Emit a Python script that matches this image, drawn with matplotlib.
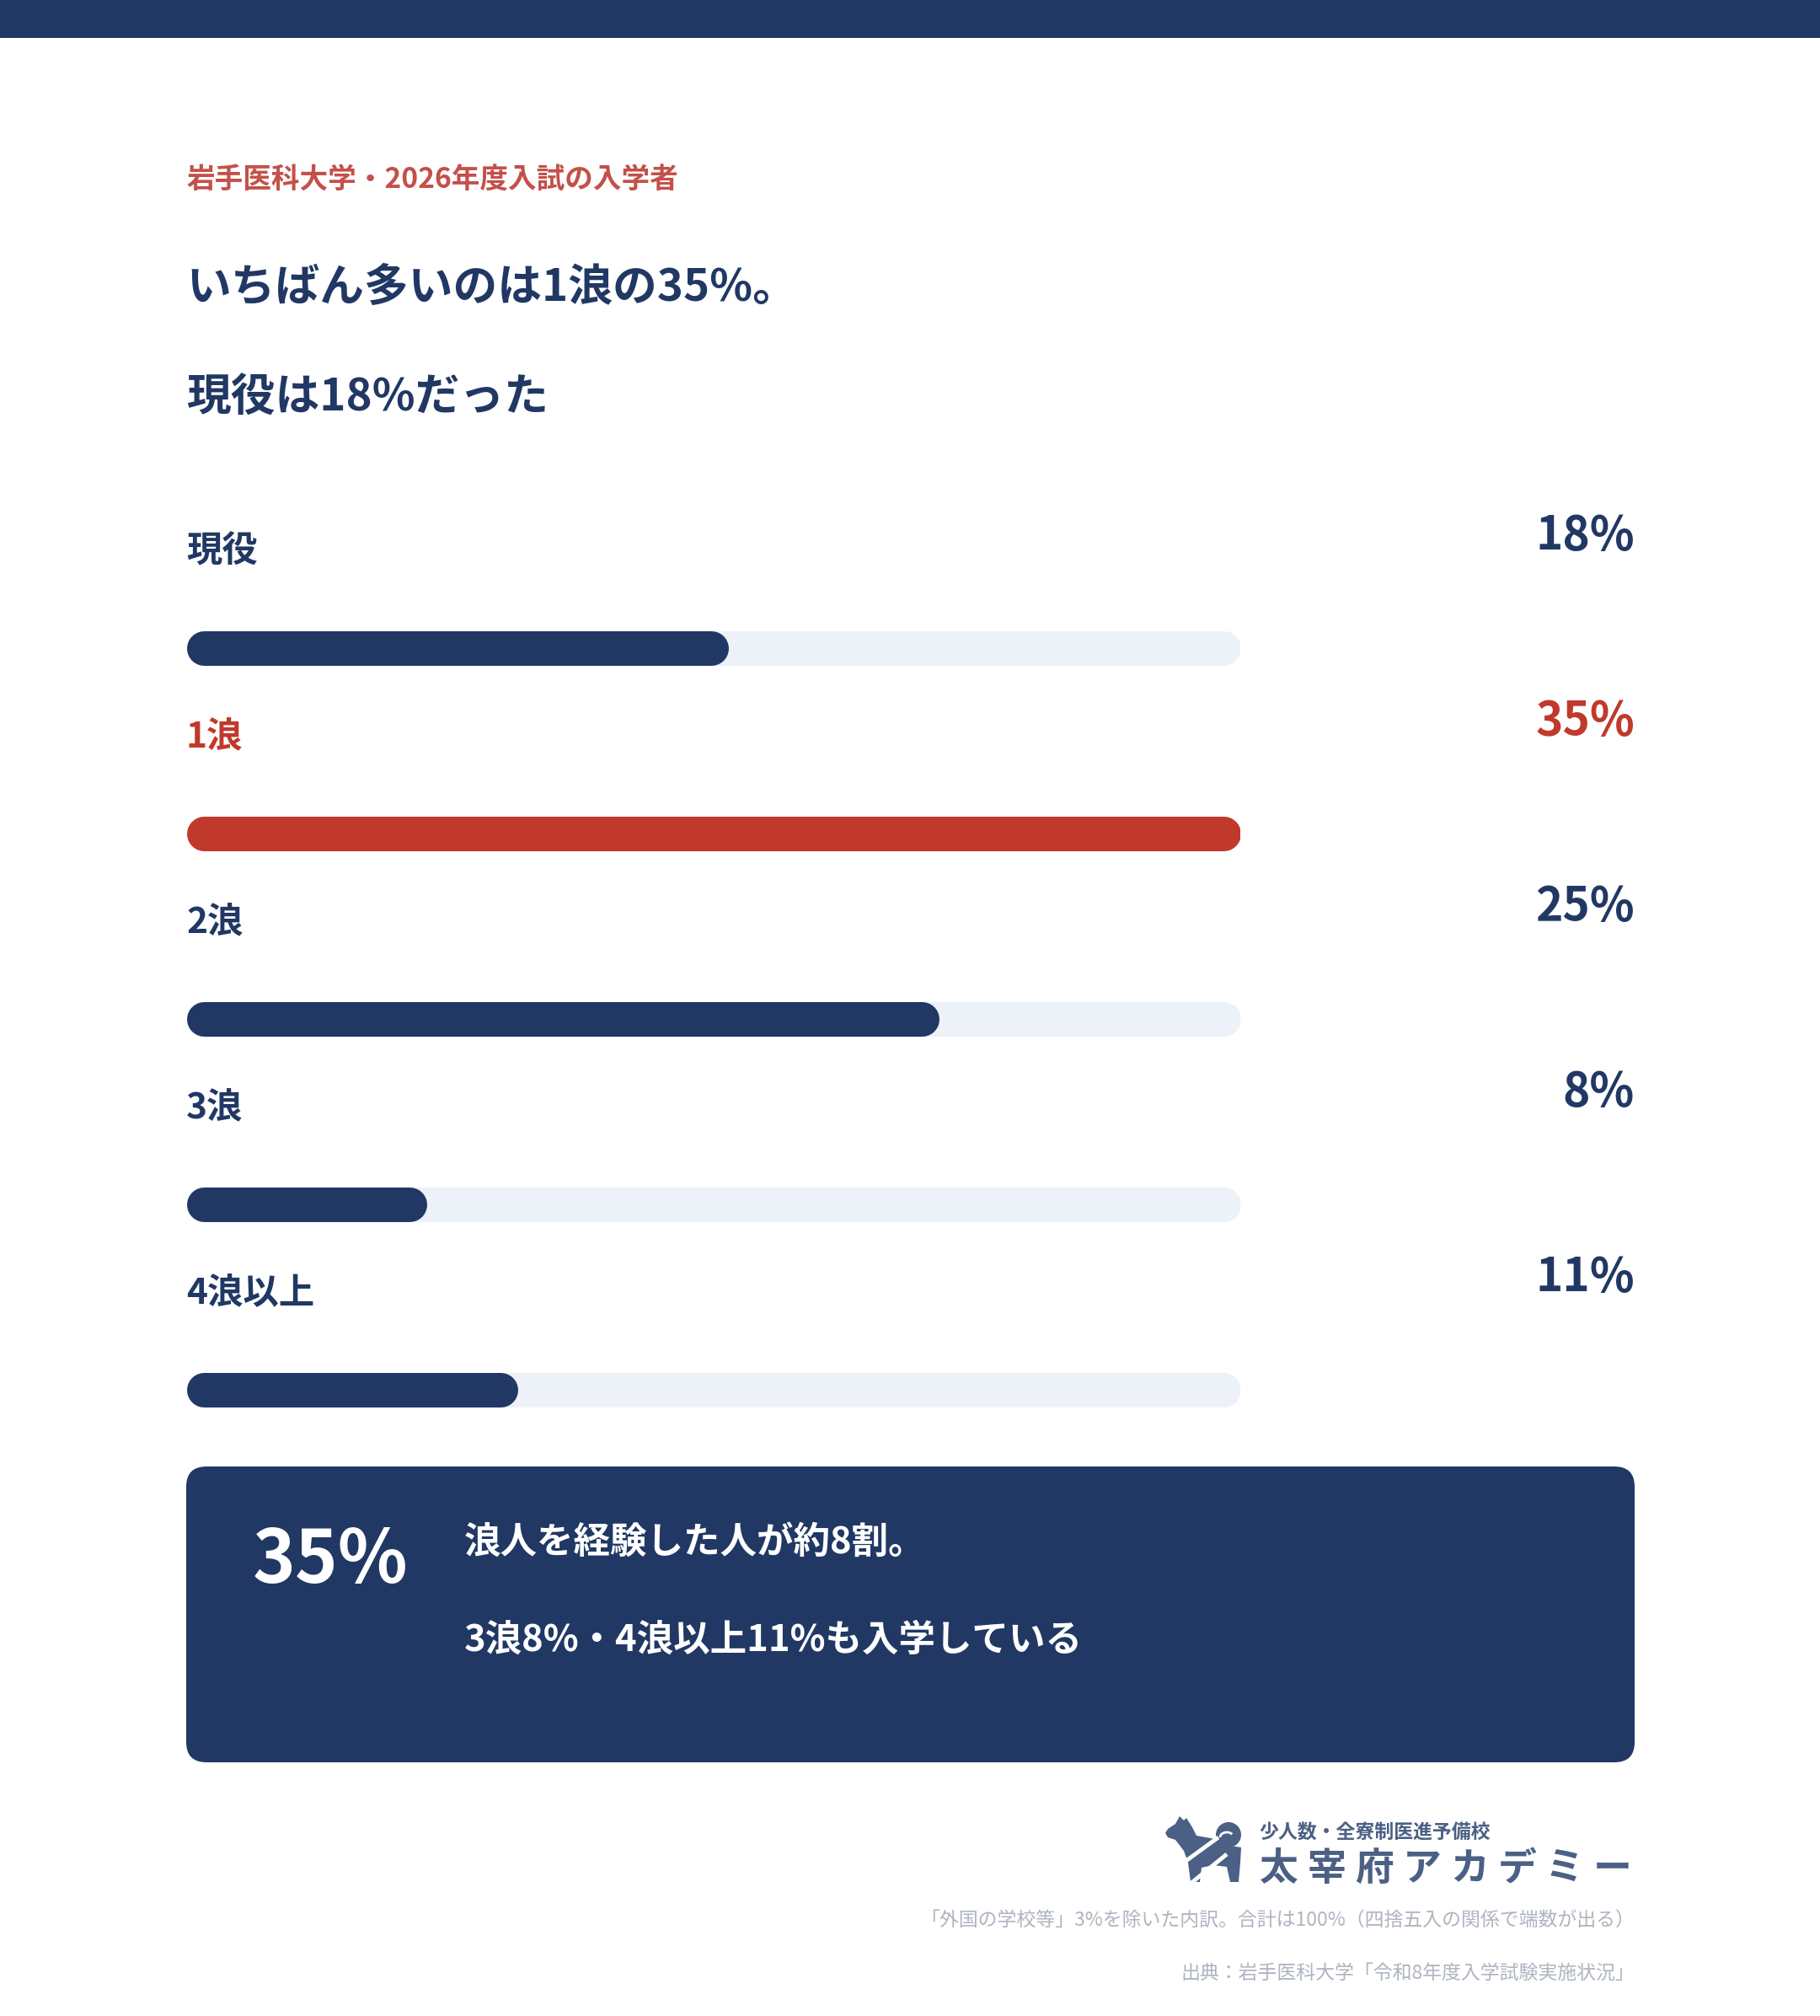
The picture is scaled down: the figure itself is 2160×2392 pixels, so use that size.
import matplotlib
matplotlib.use('Agg')
import matplotlib.pyplot as plt
from matplotlib.patches import FancyBboxPatch, Polygon, Circle, Rectangle, Arc

plt.rcParams['font.family'] = ['Noto Sans CJK JP', 'DejaVu Sans']

# data
categories = ['現役', '1浪', '2浪', '3浪', '4浪以上']
shares = [18, 35, 25, 8, 11]
scale_max = 35

subtitle = '岩手医科大学・2026年度入試の入学者'
title_lines = ['いちばん多いのは1浪の35%。', '現役は18%だった']
box_lines = ['浪人を経験した人が約8割。', '3浪8%・4浪以上11%も入学している']
notes = ['「外国の学校等」3%を除いた内訳。合計は100%（四捨五入の関係で端数が出る）',
         '出典：岩手医科大学「令和8年度入学試験実施状況」']

NAVY = '#213864'
RED = '#C0392B'
SUB_RED = '#C4504A'
TRACK = '#EDF1F8'
LOGO = '#4B6084'
GREY = '#AEB4C0'

W, H = 2160, 2392
fig = plt.figure(figsize=(W / 100, H / 100), dpi=100)
bg = fig.add_axes([0, 0, 1, 1])
bg.set_xlim(0, W)
bg.set_ylim(H, 0)
bg.axis('off')

bg.add_patch(Rectangle((0, 0), W, 45, color=NAVY, lw=0))

# headings
bg.text(221, 214, subtitle, color=SUB_RED, fontsize=24.2, fontweight='bold', va='center')
for k, line in enumerate(title_lines):
    bg.text(221, 341 + 130 * k, line, color=NAVY, fontsize=38, fontweight='bold', va='center')

# bar rows
track_left, track_right = 221, 1472
row0, pitch = 768.5, 220
bar_px = 41
r = bar_px / 2
track_w = track_right - track_left
c = scale_max * r / (track_w - 2 * r)

bx = fig.add_axes([track_left / W, 1 - (row0 + 4 * pitch + pitch / 2) / H,
                   track_w / W, 5 * pitch / H])
bx.set_xlim(-c, scale_max + c)
bx.set_ylim(len(categories) - 0.5, -0.5)
bx.axis('off')
bx.patch.set_alpha(0)

lw = bar_px * 72 / 100
top = max(shares)
ys = list(range(len(categories)))
bx.hlines(ys, 0, scale_max, colors=TRACK, linewidth=lw, capstyle='round')
ends = [v / scale_max * (scale_max + 2 * c) - 2 * c for v in shares]
cols = [RED if v == top else NAVY for v in shares]
bx.hlines(ys, 0, ends, colors=cols, linewidth=lw, capstyle='round')

for i, (cat, v) in enumerate(zip(categories, shares)):
    col = RED if v == top else NAVY
    bg.text(221, 655 + pitch * i, cat, color=col, fontsize=30.5, fontweight='bold', va='center')
    bg.text(1940, 635 + pitch * i, f'{v}%', color=col, fontsize=39.5, fontweight='bold',
            va='center', ha='right')

# summary box
bg.add_patch(FancyBboxPatch((221, 1740), 1719, 351, boxstyle='round,pad=0,rounding_size=24',
                            fc=NAVY, ec='none'))
bg.text(300, 1853, f'{top}%', color='white', fontsize=62, fontweight='bold', va='center')
bg.text(551, 1830, box_lines[0], color='white', fontsize=31.3, fontweight='bold', va='center')
bg.text(551, 1946, box_lines[1], color='white', fontsize=31.3, fontweight='bold', va='center')

# logo
ox, oy = 1380, 2150
dog = [(3, 25), (6, 20), (15, 14), (20, 5), (25, 10), (28, 7), (35, 18), (40, 28),
       (62, 32), (68, 26), (80, 40), (93, 42), (92, 60), (90, 83), (80, 83), (76, 65),
       (60, 63), (46, 66), (44, 83), (33, 83), (30, 60), (25, 46), (15, 33), (6, 30)]
bg.add_patch(Polygon([(ox + x, oy + y) for x, y in dog], closed=True, fc=LOGO, ec='none'))
bg.add_patch(Circle((ox + 78, oy + 27), 15, fc=LOGO, ec='none'))
bg.add_patch(Arc((ox + 76, oy + 30), 16, 12, theta1=180, theta2=330, color='white', lw=2))
bg.plot([ox + 22, ox + 66], [oy + 62, oy + 30], color='white', lw=3.5, solid_capstyle='butt')
bg.plot([ox + 34, ox + 76], [oy + 84, oy + 50], color='white', lw=3.5, solid_capstyle='butt')

bg.text(1494, 2175, '少人数・全寮制医進予備校', color=LOGO, fontsize=16.5, fontweight='bold',
        va='center')
for k, ch in enumerate('太宰府アカデミー'):
    bg.text(1490 + 56.5 * k + 28, 2218, ch, color=LOGO, fontsize=33, fontweight='bold',
            va='center', ha='center')

# notes
bg.text(1940, 2278, notes[0], color=GREY, fontsize=16.5, va='center', ha='right')
bg.text(1940, 2341, notes[1], color=GREY, fontsize=16.5, va='center', ha='right')

fig.savefig('out.png', dpi=100)
